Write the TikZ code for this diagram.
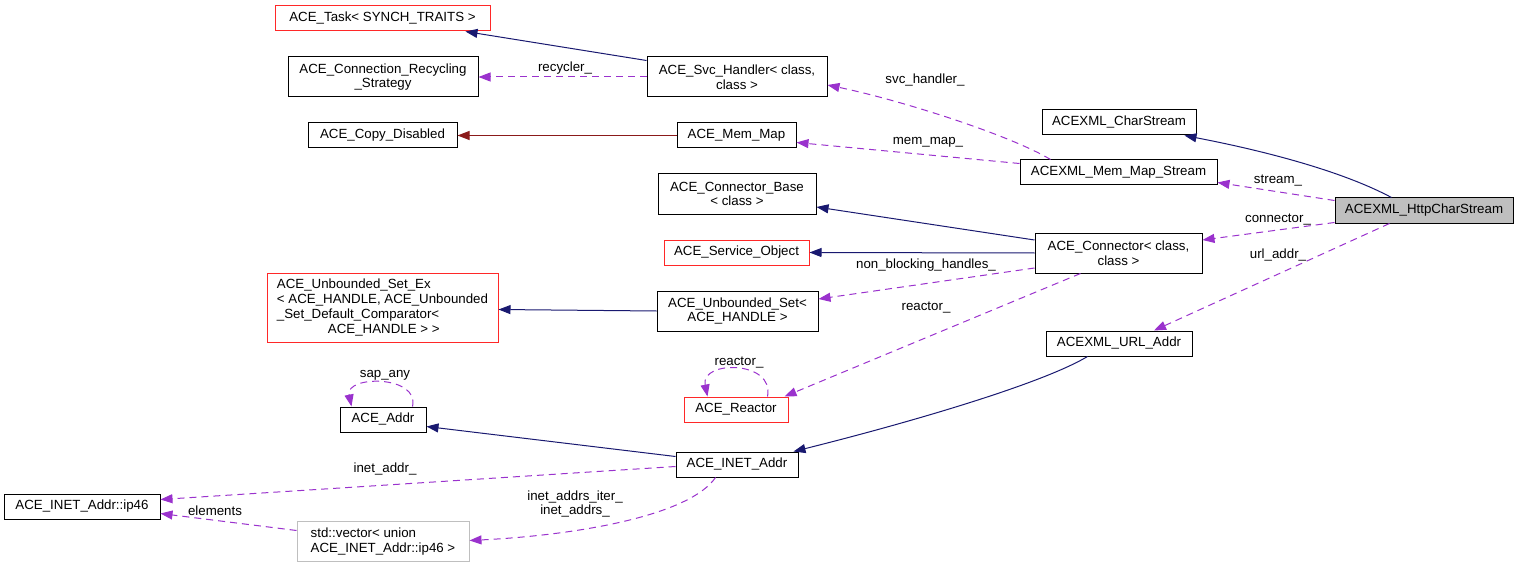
\documentclass[tikz,border=0pt]{standalone}
\usepackage{fontspec}
\setmainfont{Liberation Sans}
\usepackage{tikz}
\usetikzlibrary{arrows.meta, positioning, calc}
\definecolor{inhblue}{RGB}{25, 25, 112}
\definecolor{usepurple}{RGB}{154, 50, 205}
\definecolor{privred}{RGB}{139, 26, 26}
\definecolor{boxred}{RGB}{255, 40, 40}
\definecolor{boxgray}{RGB}{191, 191, 191}

\begin{document}
\begin{tikzpicture}[x=1pt, y=-1pt,
  every node/.style={font=\fontsize{13.3}{14.7}\selectfont},
  cls/.style={draw=black, line width=1pt, fill=white, inner sep=0pt, minimum height=25pt, align=center},
  redcls/.style={cls, draw=boxred},
  lbl/.style={inner sep=0pt},
  inh/.style={draw=inhblue, line width=1pt, -{Triangle[length=12pt, width=9pt]}},
  priv/.style={draw=privred, line width=1pt, -{Triangle[length=12pt, width=9pt]}},
  use/.style={draw=usepurple, line width=1pt, dash pattern=on 7pt off 5pt, -{Triangle[length=12pt, width=9pt]}}]
  \useasboundingbox (0,0) rectangle (1519,567);

  % Left column
  \node[redcls, minimum width=215] (task) at (382.5,18.5) {ACE\_Task< SYNCH\_TRAITS >};
  \node[cls, minimum width=190, minimum height=40] (rec) at (383,77) {ACE\_Connection\_Recycling\\\_Strategy};
  \node[cls, minimum width=149] (copy) at (382.5,135.5) {ACE\_Copy\_Disabled};
  \node[redcls, minimum width=231, minimum height=69, align=left] (ubex) at (382.5,307.5) {ACE\_Unbounded\_Set\_Ex\\< ACE\_HANDLE, ACE\_Unbounded\\\_Set\_Default\_Comparator<\\\hspace*{51pt}ACE\_HANDLE > >};
  \node[cls, minimum width=86] (addr) at (383,419.5) {ACE\_Addr};
  \node[cls, minimum width=156] (ip46) at (82,506.5) {ACE\_INET\_Addr::ip46};
  \node[cls, draw=boxgray, minimum width=172, minimum height=40, align=left] (vec) at (383,541.5) {std::vector< union\\ ACE\_INET\_Addr::ip46 >};

  % Middle column
  \node[cls, minimum width=180, minimum height=40] (svc) at (737,77) {ACE\_Svc\_Handler< class,\\class >};
  \node[cls, minimum width=119] (mm) at (736.5,135.5) {ACE\_Mem\_Map};
  \node[cls, minimum width=158, minimum height=40] (cb) at (737,194) {ACE\_Connector\_Base\\< class >};
  \node[redcls, minimum width=145] (so) at (736.5,252.5) {ACE\_Service\_Object};
  \node[cls, minimum width=161, minimum height=40] (ubs) at (737.5,311) {ACE\_Unbounded\_Set<\\ACE\_HANDLE >};
  \node[redcls, minimum width=104] (reactor) at (736,409.5) {ACE\_Reactor};
  \node[cls, minimum width=122] (inet) at (737,464.5) {ACE\_INET\_Addr};

  % Right column
  \node[cls, minimum width=154] (cs) at (1119,122.5) {ACEXML\_CharStream};
  \node[cls, minimum width=197] (mms) at (1118.5,172.5) {ACEXML\_Mem\_Map\_Stream};
  \node[cls, minimum width=167, minimum height=40] (conn) at (1118.5,253) {ACE\_Connector< class,\\class >};
  \node[cls, minimum width=146] (url) at (1119,343.5) {ACEXML\_URL\_Addr};
  \node[cls, fill=boxgray, minimum width=178] (http) at (1424,210.5) {ACEXML\_HttpCharStream};

  % Top edges
  \draw[inh] ($(svc.north west)+(0,4)$) -- ($(task.south east)+(-25,0)$);
  \draw[use] (svc.west) -- (rec.east) node[lbl] at (565,68) {recycler\_};
  \draw[priv] (mm.west) -- (copy.east);
  \draw[use] ($(mms.north west)+(31,0)$) .. controls (1010,135) and (900,100) .. ($(svc.east)+(0,8)$) node[lbl] at (925,80) {svc\_handler\_};
  \draw[use] ($(mms.west)+(0,-9)$) -- ($(mm.east)+(0,7)$) node[lbl] at (928,142) {mem\_map\_};

  % Edges from ACEXML_HttpCharStream
  \draw[inh] ($(http.north west)+(57,0)$) .. controls (1340,170) and (1260,150) .. ($(cs.south east)+(-12,0)$);
  \draw[use] ($(http.west)+(0,-10)$) -- ($(mms.east)+(0,10)$) node[lbl] at (1278,181) {stream\_};
  \draw[use] ($(http.west)+(0,12)$) -- ($(conn.east)+(0,-13)$) node[lbl] at (1278,220) {connector\_};
  \draw[use] ($(http.south west)+(55,0)$) -- ($(url.north)+(35,0)$) node[lbl] at (1278,255) {url\_addr\_};

  % Edges from ACE_Connector
  \draw[inh] ($(conn.west)+(0,-13)$) -- ($(cb.east)+(0,13)$);
  \draw[inh] (conn.west) -- (so.east);
  \draw[use] ($(conn.west)+(0,15)$) -- ($(ubs.east)+(0,-12)$) node[lbl] at (926,265) {non\_blocking\_handles\_};
  \draw[use] ($(conn.south)+(-38,0)$) -- ($(reactor.north east)+(-4,0)$) node[lbl] at (926,308) {reactor\_};
  \draw[inh] (ubs.west) -- ($(ubex.east)+(0,2)$);

  % Self loops
  \draw[use] ($(reactor.north east)+(-21,0)$) .. controls (775,360) and (700,360) .. ($(reactor.north west)+(24,0)$) node[lbl] at (739,363) {reactor\_};
  \draw[use] ($(addr.north east)+(-14,0)$) .. controls (420,375) and (345,375) .. ($(addr.north west)+(12,0)$) node[lbl] at (385,375) {sap\_any};

  % Bottom edges
  \draw[inh] ($(url.south west)+(42,0)$) .. controls (1040,385) and (900,425) .. ($(inet.north east)+(-5,0)$);
  \draw[inh] ($(inet.west)+(0,-8)$) -- ($(addr.east)+(0,7)$);
  \draw[use] ($(inet.west)+(0,2)$) -- ($(ip46.east)+(0,-7)$) node[lbl] at (385,469) {inet\_addr\_};
  \draw[use] ($(inet.south west)+(40,0)$) .. controls (690,515) and (580,535) .. ($(vec.east)+(0,-1)$) node[lbl, align=center] at (575,504) {inet\_addrs\_iter\_\\inet\_addrs\_};
  \draw[use] ($(vec.west)+(0,-11)$) -- ($(ip46.east)+(0,7)$) node[lbl] at (215,511) {elements};
\end{tikzpicture}
\end{document}
